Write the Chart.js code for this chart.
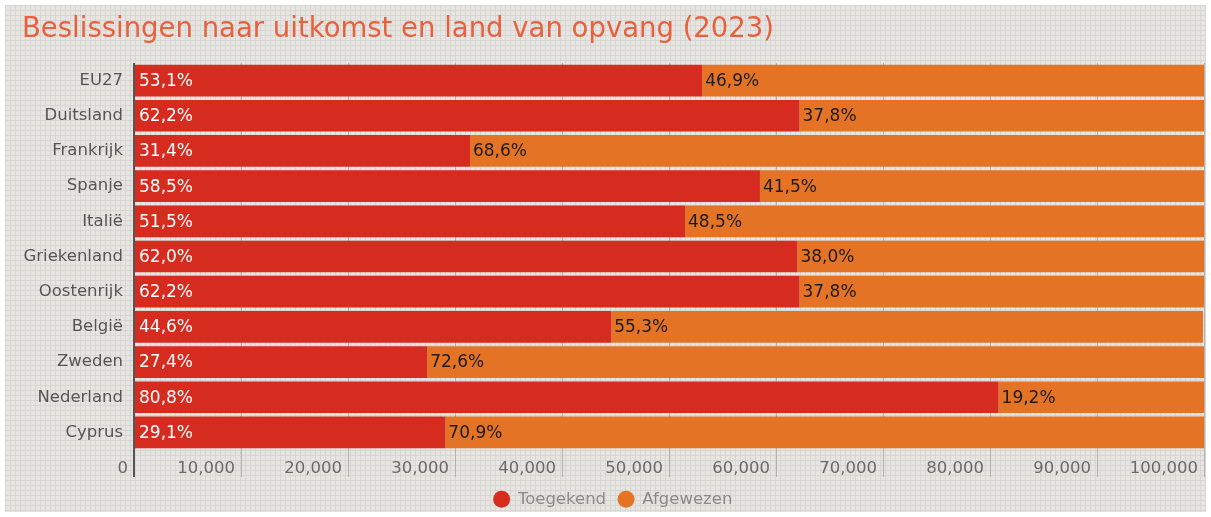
<!DOCTYPE html>
<html>
<head>
<meta charset="utf-8">
<script src="https://cdn.jsdelivr.net/npm/chart.js@4/dist/chart.umd.min.js"></script>
<style>
  html, body { margin: 0; padding: 0; background: #fff; }
  #wrap {
    position: absolute; left: 5px; top: 5px; width: 1201px; height: 507px;
    background-color: #e6e5e1;
    background-image:
      linear-gradient(to right, #d7d6d2 1px, transparent 1px),
      linear-gradient(to bottom, #d7d6d2 1px, transparent 1px);
    background-size: 5px 5px;
  }
</style>
</head>
<body>
<div id="wrap"><canvas id="chart" width="1201" height="507"></canvas></div>
<script>
const countries = ['EU27', 'Duitsland', 'Frankrijk', 'Spanje', 'Italië', 'Griekenland',
  'Oostenrijk', 'België', 'Zweden', 'Nederland', 'Cyprus'];
const granted = [53.1, 62.2, 31.4, 58.5, 51.5, 62.0, 62.2, 44.6, 27.4, 80.8, 29.1];
const rejected = [46.9, 37.8, 68.6, 41.5, 48.5, 38.0, 37.8, 55.3, 72.6, 19.2, 70.9];
const xTickLabels = ['0', '10,000', '20,000', '30,000', '40,000', '50,000',
  '60,000', '70,000', '80,000', '90,000', '100,000'];

const FONT = 'DejaVu Sans';

// percentages written inside the bars
const barLabels = {
  id: 'barLabels',
  afterDatasetsDraw(chart) {
    const ctx = chart.ctx;
    ctx.save();
    ctx.font = '17px "' + FONT + '"';
    ctx.textAlign = 'left';
    ctx.textBaseline = 'middle';
    chart.data.datasets.forEach((ds, di) => {
      const meta = chart.getDatasetMeta(di);
      ctx.fillStyle = di === 0 ? '#ffffff' : '#1c1c1c';
      meta.data.forEach((bar, i) => {
        const txt = ds.data[i].toFixed(1).replace('.', ',') + '%';
        ctx.fillText(txt, Math.min(bar.x, bar.base) + (di === 0 ? 4 : 3), bar.y + 1);
      });
    });
    ctx.restore();
  }
};

// keep the legend compact so the plot can use more height
const tightLegend = {
  id: 'tightLegend',
  beforeLayout(chart) {
    const lg = chart.legend;
    if (lg && !lg._tight) {
      const fit = lg.fit;
      lg.fit = function () {
        fit.call(this);
        this.height = 33;
      };
      lg._tight = true;
    }
  }
};

new Chart(document.getElementById('chart'), {
  type: 'bar',
  data: {
    labels: countries,
    datasets: [
      { label: 'Toegekend', data: granted, backgroundColor: '#d62b1f' },
      { label: 'Afgewezen', data: rejected, backgroundColor: '#e47325' }
    ]
  },
  options: {
    indexAxis: 'y',
    responsive: false,
    animation: false,
    datasets: { bar: { barPercentage: 0.9, categoryPercentage: 1.0 } },
    layout: { padding: { left: 17, right: 2, top: 0, bottom: 0 } },
    scales: {
      x: {
        stacked: true,
        min: 0,
        max: 100,
        border: { display: false },
        grid: {
          color: c => (c.tick && c.tick.value === 0) ? '#555555' : '#b3b2ae',
          lineWidth: c => (c.tick && c.tick.value === 0) ? 2 : 1,
          tickLength: 27
        },
        ticks: {
          stepSize: 10,
          align: 'end',
          labelOffset: -6,
          padding: -18,
          color: '#6a6a6a',
          font: { family: FONT, size: 16.5 },
          callback: (v, i) => xTickLabels[i]
        },
        afterFit: s => { s.height = 29; }
      },
      y: {
        stacked: true,
        border: { display: false },
        grid: { display: false, drawTicks: false },
        ticks: { color: '#555555', font: { family: FONT, size: 16.5 }, padding: 11 },
        afterFit: s => { s.width = 112; }
      }
    },
    plugins: {
      title: {
        display: true,
        text: 'Beslissingen naar uitkomst en land van opvang (2023)',
        align: 'start',
        color: '#e8613c',
        font: { family: FONT, size: 27.5, weight: 'normal' },
        padding: { top: 8, bottom: 17 }
      },
      legend: {
        position: 'bottom',
        labels: {
          usePointStyle: true,
          pointStyle: 'circle',
          boxWidth: 16,
          boxHeight: 12,
          padding: 12,
          color: '#8a8a8a',
          font: { family: FONT, size: 16.5 }
        }
      },
      tooltip: { enabled: false }
    }
  },
  plugins: [barLabels, tightLegend]
});
</script>
</body>
</html>
